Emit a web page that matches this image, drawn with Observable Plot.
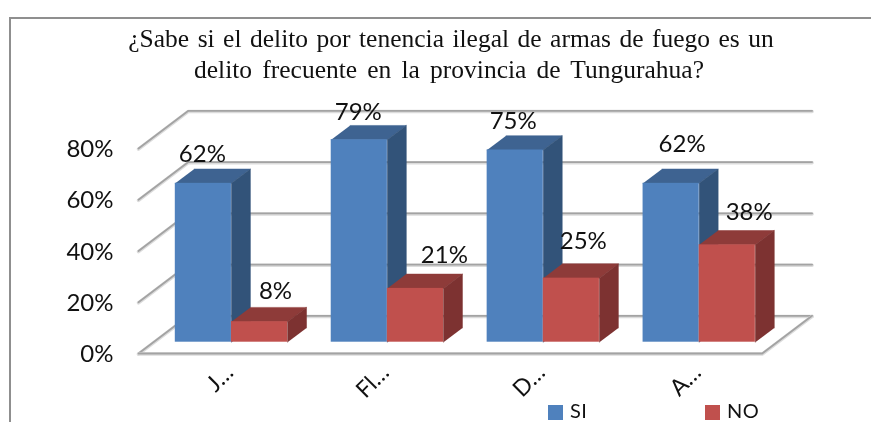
<!DOCTYPE html>
<html>
<head>
<meta charset="utf-8">
<script src="https://cdn.jsdelivr.net/npm/d3@7"></script>
<script src="https://cdn.jsdelivr.net/npm/@observablehq/plot@0.6"></script>
<style>
html,body{margin:0;padding:0;background:#fff;}
#wrap{position:relative;width:871px;height:422px;overflow:hidden;filter:blur(0.4px);}
#frame{position:absolute;left:9px;top:17px;width:880px;height:430px;border-left:2px solid #8f8f8f;border-top:2px solid #8f8f8f;}
#title{position:absolute;left:0;top:24px;width:902px;text-align:center;font-family:"Liberation Serif",serif;font-size:25.5px;line-height:30.5px;color:#111;word-spacing:2.1px;z-index:2;}
#title span{position:relative;left:-2px;word-spacing:3.8px;}
.leg{position:absolute;top:397.5px;height:24px;font:20px/24px Lato,sans-serif;letter-spacing:.5px;color:#111;z-index:2;}
.sw{position:absolute;width:15px;height:15px;top:405px;z-index:2;}
svg{position:absolute;left:0;top:0;background:transparent !important;}
</style>
</head>
<body>
<div id="wrap">
<div id="frame"></div>
<div id="title">¿Sabe si el delito por tenencia ilegal de armas de fuego es un<br><span>delito frecuente en la provincia de Tungurahua?</span></div>
<div class="sw" style="left:548px;background:#4f81bd"></div><div class="leg" style="left:570px">SI</div>
<div class="sw" style="left:705px;background:#c0504d"></div><div class="leg" style="left:727px">NO</div>
</div>
<script>
const categories = ["J…", "Fl…", "D…", "A…"];
const si = [62, 79, 75, 62];
const no = [8, 21, 25, 38];
const yTicks = [0, 20, 40, 60, 80];

// 3D projection in data units: depth d in 0..1 shifts x and y
const skewX = 0.32, skewY = 14.7, barW = 0.36, d0 = 0.3, d1 = 0.68;
const PX = (u, d) => u + d * skewX;
const PY = (v, d) => v + d * skewY;
const poly = pts => pts.map(([u, v, d]) => ({x: PX(u, d), y: PY(v, d)}));
const face = (pts, fill) => Plot.line(poly(pts), {x: "x", y: "y", fill, stroke: fill, strokeWidth: 0.5, curve: "linear"});

const colors = {
  si: {front: "#4f81bd", top: "#3e6391", side: "#325379"},
  no: {front: "#c0504d", top: "#8e3b39", side: "#7d3231"}
};

function bar(left, value, c) {
  const r = left + barW;
  return [
    face([[left, value, d0], [r, value, d0], [r, value, d1], [left, value, d1]], c.top),
    face([[r, 0, d0], [r, value, d0], [r, value, d1], [r, 0, d1]], c.side),
    Plot.rect([{x1: PX(left, d0), x2: PX(r, d0), y1: PY(0, d0), y2: PY(value, d0)}],
      {x1: "x1", x2: "x2", y1: "y1", y2: "y2", fill: c.front})
  ];
}

// Grid: left wall, back wall, floor
const wallLine = v => poly([[0, v, 0], [0, v, 1], [4, v, 1]]);
const grid = [];
for (const v of yTicks) {
  grid.push(Plot.line(wallLine(v), {x: "x", y: "y", stroke: "#dcdcdc", strokeWidth: 3.5, dy: 0.6}));
  grid.push(Plot.line(wallLine(v), {x: "x", y: "y", stroke: "#a3a3a3", strokeWidth: 1.8}));
}
const floorEdge = poly([[0, 0, 0], [4, 0, 0], [4, 0, 1]]);
grid.push(Plot.line(floorEdge, {x: "x", y: "y", stroke: "#dcdcdc", strokeWidth: 3.5, dy: 0.6}));
grid.push(Plot.line(floorEdge, {x: "x", y: "y", stroke: "#a3a3a3", strokeWidth: 1.8}));

const bars = [];
const labels = [];
// pixel nudges from the top-back-centre of each bar to the label centre
const nudgeSi = [[-20, -14.5], [-20, -13], [-21, -14], [-8, -24.5]];
const nudgeNo = [[-3, -16], [10, -18.6], [-7, -23], [3, -18]];
const labelStyle = {fontSize: 24, fontFamily: "Lato, sans-serif", fill: "#111"};
categories.forEach((cat, i) => {
  const l = i + 0.5 - barW;
  bars.push(...bar(l, si[i], colors.si), ...bar(i + 0.5, no[i], colors.no));
  labels.push(Plot.text([si[i]], {x: () => PX(l + barW / 2, d1), y: v => PY(v, d1), text: v => v + "%",
    dx: nudgeSi[i][0], dy: nudgeSi[i][1], ...labelStyle}));
  labels.push(Plot.text([no[i]], {x: () => PX(i + 0.5 + barW / 2, d1), y: v => PY(v, d1), text: v => v + "%",
    dx: nudgeNo[i][0], dy: nudgeNo[i][1], ...labelStyle}));
});

const chart = Plot.plot({
  width: 871, height: 422,
  marginLeft: 113, marginRight: 0, marginTop: 0, marginBottom: 0,
  x: {domain: [0, 4], range: [138, 761.7], axis: null},
  y: {domain: [0, 80], range: [353, 148], axis: null},
  marks: [
    ...grid,
    ...bars,
    ...labels,
    Plot.axisY(yTicks, {anchor: "left", tickSize: 0, tickPadding: 0, tickFormat: d => d + "%", dy: 1,
      fontSize: 24, fontFamily: "Lato, sans-serif", fill: "#111", label: null}),
    Plot.text(categories, {x: (d, i) => i + 0.583, y: -6, text: d => d, rotate: -45, textAnchor: "end",
      fontSize: 23, fontFamily: "Lato, sans-serif", fill: "#111"})
  ]
});
document.getElementById("wrap").appendChild(chart);
</script>
</body>
</html>
